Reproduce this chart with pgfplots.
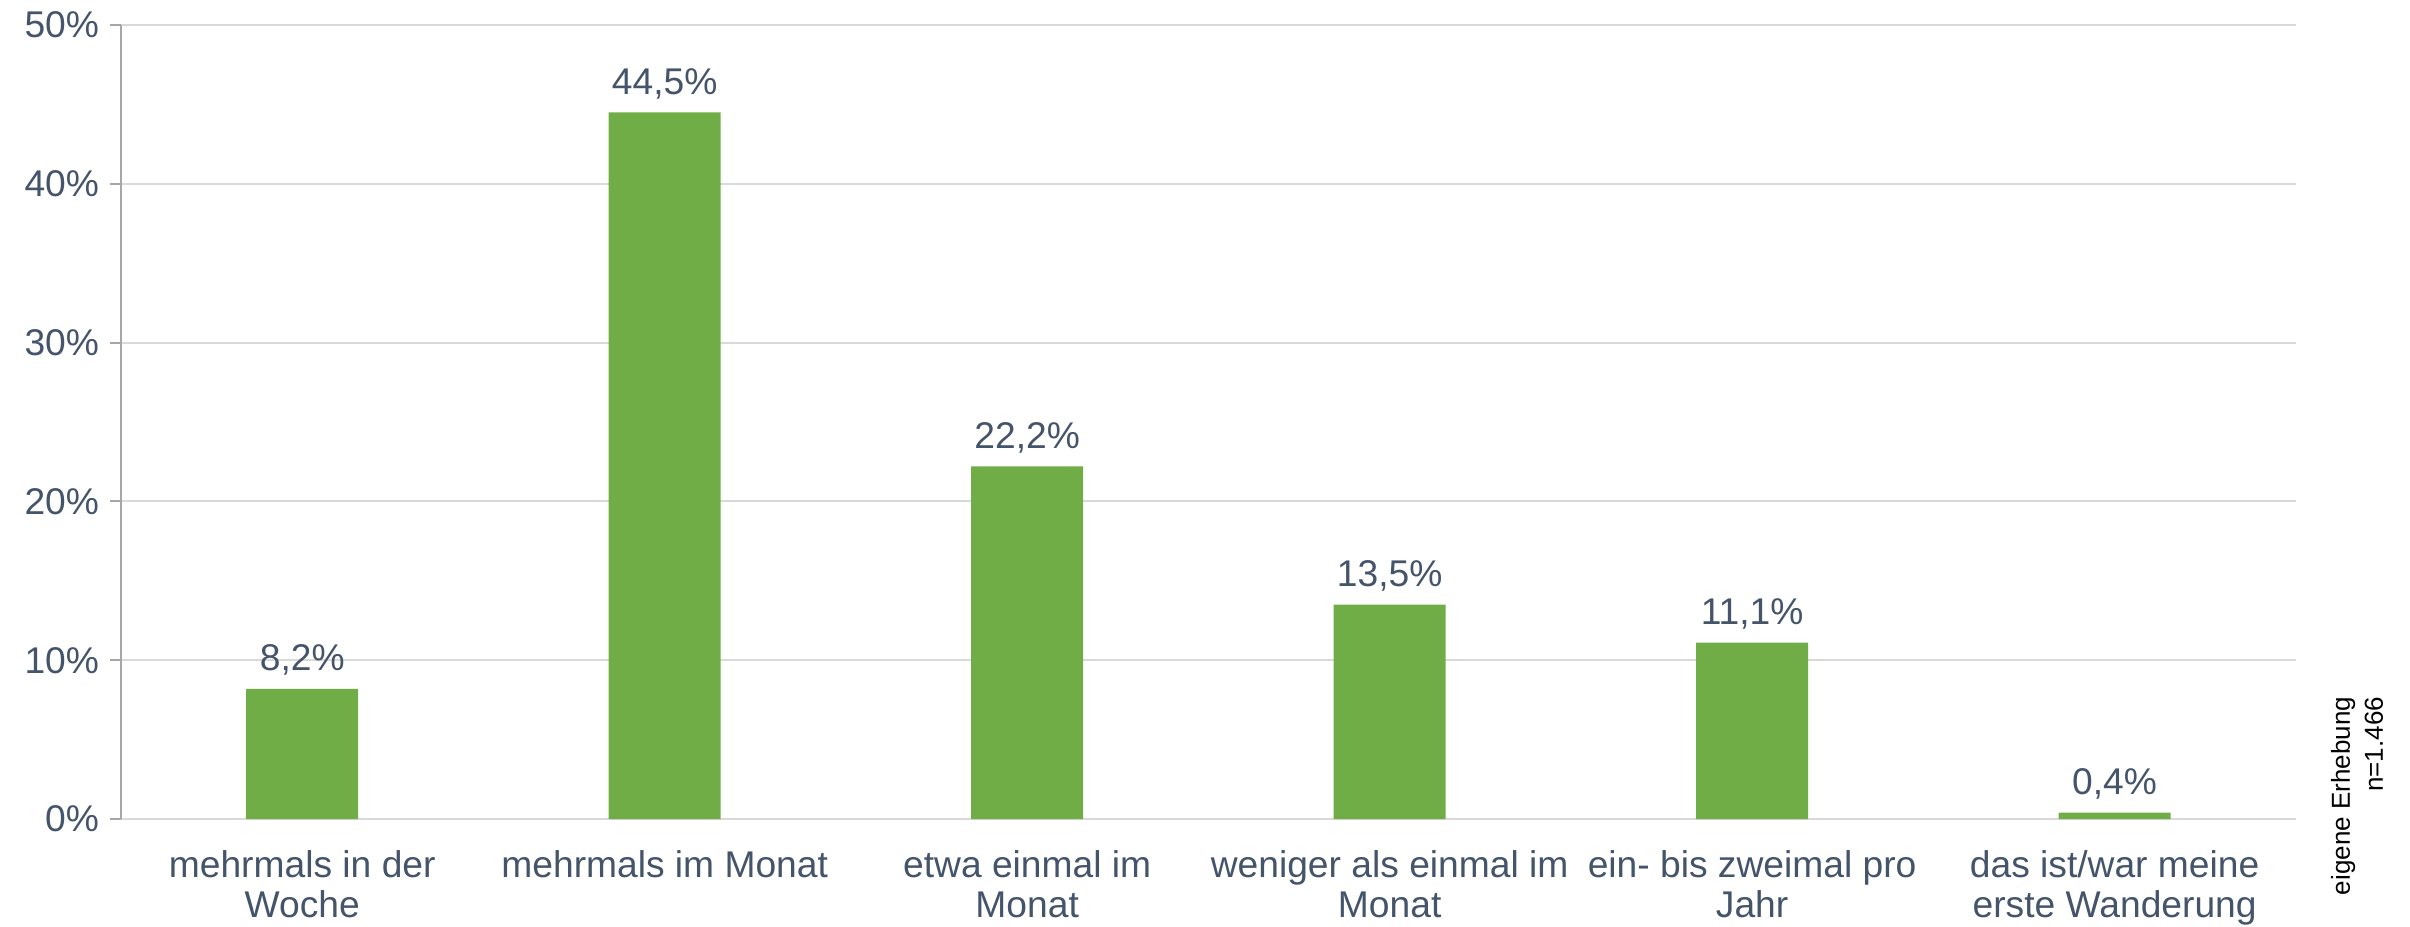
\documentclass[border=0pt]{standalone}
\usepackage{fontspec}
\setmainfont{Liberation Sans}
\usepackage{pgfplots}
\pgfplotsset{compat=1.18}
\definecolor{txt}{HTML}{44546A}
\definecolor{barGreen}{HTML}{70AD47}
\definecolor{gridc}{HTML}{D9D9D9}
\definecolor{axgray}{HTML}{A6A6A6}
\begin{document}
\begin{tikzpicture}
\begin{axis}[
  at={(0,0)}, anchor=south west,
  scale only axis, width=1087.5bp, height=397bp,
  xmin=-0.5, xmax=5.5, ymin=0, ymax=50,
  clip=false,
  /pgf/number format/assume math mode=true,
  axis x line*=bottom, axis y line*=left,
  x axis line style={draw=gridc, line width=1bp, -},
  y axis line style={draw=axgray, line width=1bp, -},
  ytick={0,10,20,30,40,50},
  ymajorgrids, grid style={draw=gridc, line width=1bp},
  ytick style={draw=axgray, line width=1bp},
  tick align=outside, major tick length=5.5bp,
  yticklabel={\pgfmathprintnumber{\tick}\%},
  yticklabel style={font=\fontsize{18.6bp}{22bp}\selectfont, text=txt, xshift=-2bp},
  xtick={0,1,2,3,4,5},
  xticklabels={{mehrmals in der\\Woche},{mehrmals im Monat},{etwa einmal im\\Monat},{weniger als einmal im\\Monat},{ein- bis zweimal pro\\Jahr},{das ist/war meine\\erste Wanderung}},
  x tick style={draw=none},
  xticklabel style={font=\fontsize{18.6bp}{20bp}\selectfont, text=txt, align=center, anchor=north, yshift=-7bp},
  extra x ticks={-0.5,0.5,1.5,2.5,3.5,4.5,5.5},
  extra x tick labels={},
  extra x tick style={major tick length=5.5bp, tick align=outside, tick style={draw=gridc, line width=1bp}},
  nodes near coords={\pgfmathprintnumber[fixed,fixed zerofill,precision=1,use comma]{\pgfplotspointmeta}\%},
  nodes near coords style={font=\fontsize{18.6bp}{22bp}\selectfont, text=txt, anchor=south, inner sep=4bp, yshift=2.5bp},
]
\addplot[ybar, bar width=56bp, fill=barGreen, draw=none] coordinates {(0,8.2) (1,44.5) (2,22.2) (3,13.5) (4,11.1) (5,0.4)};
\end{axis}
\node[rotate=90, align=right, text=black, font=\fontsize{13bp}{16.5bp}\selectfont, inner sep=0pt] at (1118bp,11.5bp) {eigene Erhebung\\n=1.466};
\pgfresetboundingbox
\path[use as bounding box] (-60.5bp,-54bp) rectangle (1144.5bp,409.5bp);
\end{tikzpicture}
\end{document}
